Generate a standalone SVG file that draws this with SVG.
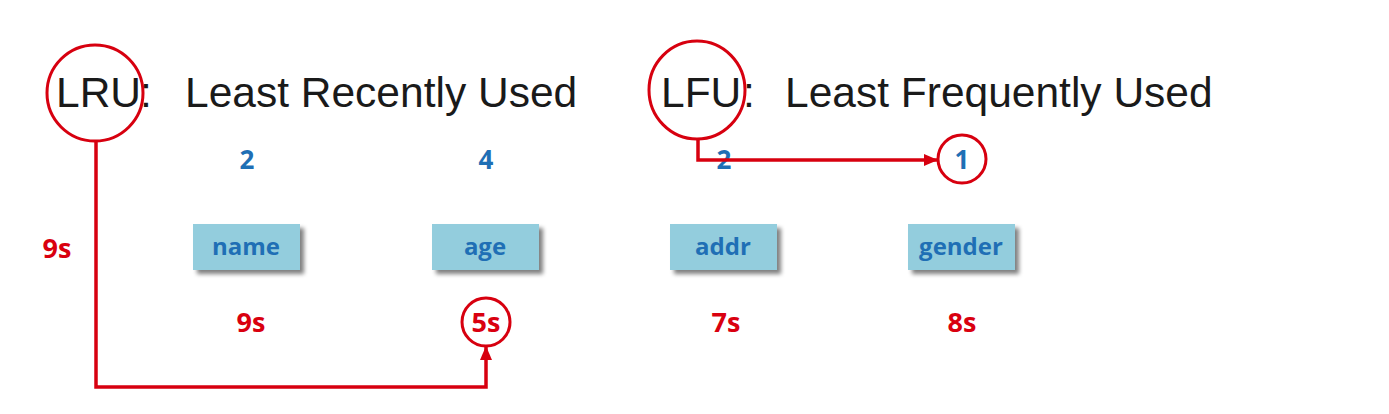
<svg xmlns="http://www.w3.org/2000/svg" width="1389" height="414" viewBox="0 0 1389 414">
<defs>
<style>
.title{font-family:"Liberation Sans",Arial,sans-serif;font-size:42.5px;fill:#1a1a1a}
.num{font-family:"Open Sans","Noto Sans",sans-serif;font-weight:bold;font-size:26px;fill:#1f6fb5;text-anchor:middle}
.sec{font-family:"Open Sans","Noto Sans",sans-serif;font-weight:bold;font-size:27px;fill:#d9000f;text-anchor:middle}
.lbl{font-family:"Open Sans","Noto Sans",sans-serif;font-weight:bold;font-size:24px;fill:#1f6fb5;text-anchor:middle}
.box{fill:#93cddd}
.ring{fill:none;stroke:#d7000f;stroke-width:3}
.wire{fill:none;stroke:#d7000f;stroke-width:3.5}
</style>
<filter id="sh" x="-20%" y="-20%" width="150%" height="160%">
<feGaussianBlur in="SourceAlpha" stdDeviation="2"/>
<feOffset dx="4" dy="4" result="b"/>
<feComponentTransfer><feFuncA type="linear" slope="0.5"/></feComponentTransfer>
<feMerge><feMergeNode/><feMergeNode in="SourceGraphic"/></feMerge>
</filter>
<marker id="arr" markerWidth="14" markerHeight="12" refX="13" refY="6" orient="auto" markerUnits="userSpaceOnUse" viewBox="0 0 14 12">
<path d="M0,0 L14,6 L0,12 Z" fill="#d7000f"/>
</marker>
</defs>
<rect width="1389" height="414" fill="#ffffff"/>

<g id="lru-title">
<text class="title" x="56" y="107">LRU</text>
<text class="title" x="140" y="107">:</text>
<text class="title" x="185" y="107">Least Recently Used</text>
<ellipse class="ring" cx="95" cy="93" rx="48" ry="48"/>
</g>

<g id="lfu-title">
<text class="title" x="661" y="107">LFU</text>
<text class="title" x="743" y="107">:</text>
<text class="title" x="785" y="107">Least Frequently Used</text>
<ellipse class="ring" cx="697" cy="90" rx="48" ry="49"/>
</g>

<g id="counts">
<text class="num" x="247" y="169">2</text>
<text class="num" x="486" y="169">4</text>
<text class="num" x="724" y="169">2</text>
<g id="count-gender">
<text class="num" x="962" y="169">1</text>
<circle class="ring" cx="962" cy="159" r="24"/>
</g>
</g>

<g id="left-9s"><text class="sec" x="57" y="258">9s</text></g>

<g id="node-name">
<rect class="box" x="193" y="224" width="107" height="46" filter="url(#sh)"/>
<text class="lbl" x="246" y="255">name</text>
</g>
<g id="node-age">
<rect class="box" x="432" y="224" width="107" height="46" filter="url(#sh)"/>
<text class="lbl" x="485" y="255">age</text>
</g>
<g id="node-addr">
<rect class="box" x="670" y="224" width="107" height="46" filter="url(#sh)"/>
<text class="lbl" x="723" y="255">addr</text>
</g>
<g id="node-gender">
<rect class="box" x="908" y="224" width="107" height="46" filter="url(#sh)"/>
<text class="lbl" x="961" y="255">gender</text>
</g>

<g id="times">
<text class="sec" x="251" y="332">9s</text>
<g id="time-age">
<text class="sec" x="486" y="332">5s</text>
<circle class="ring" cx="486" cy="322" r="24"/>
</g>
<text class="sec" x="726" y="332">7s</text>
<text class="sec" x="962" y="332">8s</text>
</g>

<g id="connectors">
<path class="wire" d="M96,141 V387 H486 V347" marker-end="url(#arr)"/>
<path class="wire" d="M698,139 V160 H937" marker-end="url(#arr)"/>
</g>
</svg>
